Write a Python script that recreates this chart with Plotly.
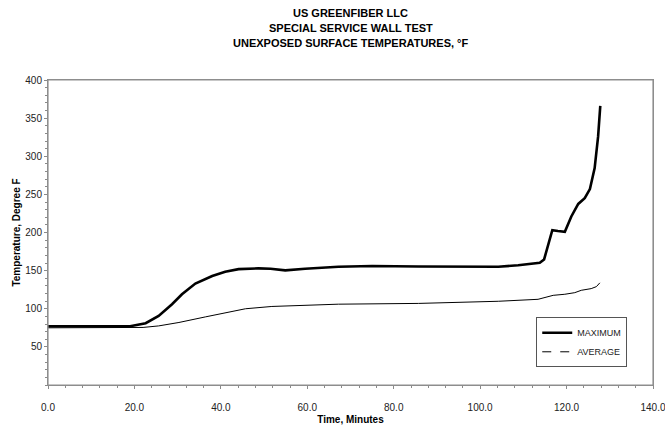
import plotly.graph_objects as go

# ---- data ----
max_time = [0, 5, 10, 15, 19, 22.6, 25.6, 28.7, 31.0, 34.1, 38.0, 41.0, 44.1, 48.7, 51.5,
            54.9, 59.5, 67.2, 75, 85.7, 95, 104.2, 108.8, 113.8, 114.8, 115.7, 116.7,
            118.0, 119.6, 121.1, 122.7, 124.2, 125.4, 126.5, 127.3, 127.8]
max_temp = [77, 77, 77, 77, 77, 81, 90.6, 106, 119, 133, 143, 148.6, 152, 153, 152.5,
            150.3, 152.5, 155, 156, 155.5, 155, 155, 157, 160.3, 164.7, 184, 203,
            202, 201, 221, 237.5, 245, 257, 284.5, 326, 366]

avg_time = [0, 19, 22, 25.6, 30.3, 36.4, 41.0, 45.7, 51.8, 59.5, 67.2, 85.7, 104.2,
            113.4, 115.0, 116.9, 119.6, 121.9, 123.4, 125.7, 126.9, 127.7]
avg_temp = [75, 75, 75.5, 77.5, 82, 89.3, 95, 100, 103, 104.6, 106, 107, 109.8,
            112.4, 114.6, 117.6, 119, 121.1, 124.2, 126.4, 129, 134]

x_ticks = [0, 20, 40, 60, 80, 100, 120, 140]
y_ticks = [50, 100, 150, 200, 250, 300, 350, 400]

title_lines = ["US GREENFIBER LLC", "SPECIAL SERVICE WALL TEST",
               "UNEXPOSED SURFACE TEMPERATURES, °F"]

FONT = "Liberation Sans, Arial, sans-serif"
AXCOL = "#8a8a8a"
H, T, B = 425, 80, 40
PLOT_H = H - T - B

fig = go.Figure()
fig.add_trace(go.Scatter(x=max_time, y=max_temp, mode="lines", name="MAXIMUM",
                         line=dict(color="black", width=2.6)))
fig.add_trace(go.Scatter(x=avg_time, y=avg_temp, mode="lines", name="AVERAGE",
                         line=dict(color="black", width=1), showlegend=False))
# legend proxy (dashed, as in the reference legend)
fig.add_trace(go.Scatter(x=[None], y=[None], mode="lines", name="AVERAGE",
                         line=dict(color="black", width=1, dash="dash")))

# title lines as annotations (centred on the page)
for i, line in enumerate(title_lines):
    ypix = 13 + 15 * i
    fig.add_annotation(text="<b>" + line + "</b>", xref="paper", yref="paper",
                       x=0.5, y=(H - B - ypix) / PLOT_H, xanchor="center", yanchor="middle",
                       showarrow=False, font=dict(family=FONT, size=11, color="black"))

# plot-area frame
fig.add_shape(type="rect", xref="paper", yref="paper", x0=0, x1=1, y0=0, y1=1,
              line=dict(color="#909090", width=1.2), fillcolor="rgba(0,0,0,0)", layer="above")

fig.update_layout(
    width=665, height=H,
    margin=dict(l=48, r=12, t=T, b=B, autoexpand=False),
    paper_bgcolor="white", plot_bgcolor="white",
    font=dict(family=FONT, size=10, color="#222"),
    showlegend=True,
    legend=dict(x=0.807, y=0.222, xanchor="left", yanchor="top",
                bordercolor="#555", borderwidth=1, bgcolor="white",
                font=dict(size=9, color="#222"), tracegroupgap=0,
                itemwidth=30),
)

fig.update_xaxes(
    range=[0, 140], tickvals=x_ticks, tickformat=".1f", automargin=False,
    ticklabeloverflow="allow",
    showgrid=False, zeroline=False,
    showline=True, linecolor=AXCOL, linewidth=1, mirror=True,
    ticks="outside", ticklen=3, tickcolor=AXCOL,
    minor=dict(dtick=4, tick0=0, ticks="outside", ticklen=2, tickcolor=AXCOL),
    ticklabelstandoff=10,
    title=dict(text="<b>Time, Minutes</b>", font=dict(size=10, color="black"), standoff=4),
)
fig.update_yaxes(
    range=[0, 400], tickvals=y_ticks, automargin=False,
    showgrid=False, zeroline=False,
    showline=True, linecolor=AXCOL, linewidth=1, mirror=True,
    ticks="outside", ticklen=3, tickcolor=AXCOL,
    minor=dict(dtick=10, tick0=0, ticks="outside", ticklen=2, tickcolor=AXCOL),
    title=dict(text="<b>Temperature, Degree F</b>", font=dict(size=10, color="black"), standoff=2),
)

fig.write_html("out.html", config={"displayModeBar": False},
               post_script="document.body.style.margin='0';document.body.style.overflow='hidden';")
